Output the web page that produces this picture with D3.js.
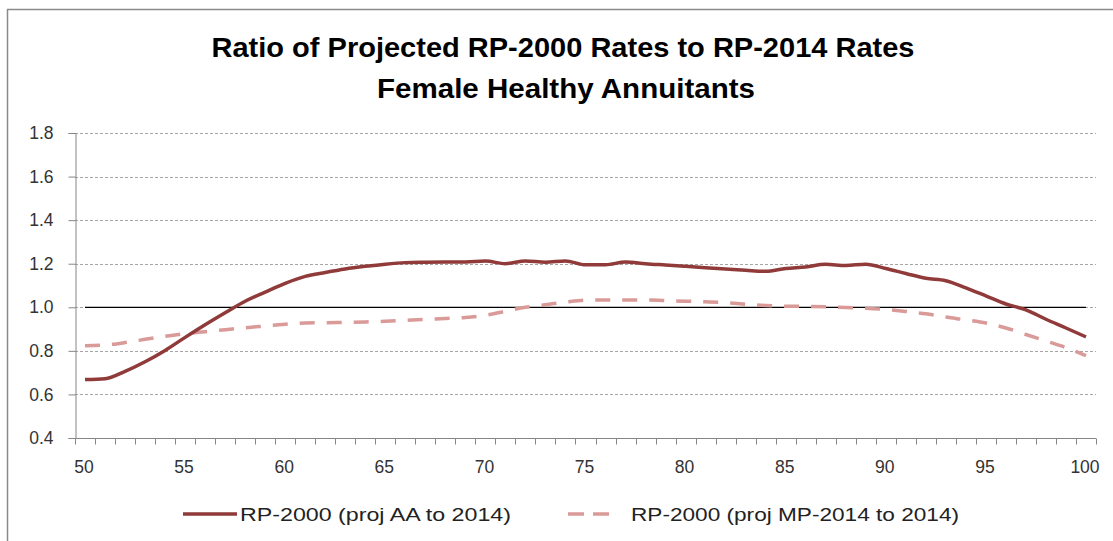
<!DOCTYPE html>
<html>
<head>
<meta charset="utf-8">
<script src="https://cdn.jsdelivr.net/npm/d3@7"></script>
<style>
  html, body { margin: 0; padding: 0; background: #fff; }
  svg { display: block; }
  text { font-family: "Liberation Sans", "DejaVu Sans", sans-serif; }
</style>
</head>
<body>
<svg id="chart" width="1113" height="541"></svg>
<script>
const ages = d3.range(50, 101);
const xTickLabels = [50, 55, 60, 65, 70, 75, 80, 85, 90, 95, 100];
const yTicks = [0.4, 0.6, 0.8, 1.0, 1.2, 1.4, 1.6, 1.8];
const seriesAA = [0.668, 0.672, 0.706, 0.750, 0.802, 0.862, 0.920, 0.975, 1.028, 1.070,
  1.110, 1.142, 1.160, 1.176, 1.188, 1.198, 1.205, 1.207, 1.208, 1.208,
  1.212, 1.200, 1.213, 1.207, 1.213, 1.195, 1.195, 1.208, 1.200, 1.194,
  1.188, 1.182, 1.176, 1.170, 1.165, 1.178, 1.185, 1.197, 1.192, 1.198,
  1.178, 1.155, 1.133, 1.122, 1.089, 1.052, 1.015, 0.988, 0.945, 0.905, 0.864];
const seriesMP = [0.824, 0.827, 0.838, 0.853, 0.867, 0.879, 0.888, 0.897, 0.906, 0.914,
  0.922, 0.928, 0.929, 0.931, 0.933, 0.936, 0.940, 0.944, 0.949, 0.953,
  0.963, 0.982, 1.000, 1.012, 1.024, 1.033, 1.034, 1.034, 1.034, 1.031,
  1.028, 1.025, 1.021, 1.014, 1.008, 1.005, 1.004, 1.002, 0.999, 0.996,
  0.990, 0.981, 0.970, 0.955, 0.942, 0.928, 0.905, 0.875, 0.845, 0.815, 0.778];
const referenceLine = ages.map(() => 1.0);
const seriesNames = ["RP-2000 (proj AA to 2014)", "RP-2000 (proj MP-2014 to 2014)"];
const titleLines = ["Ratio of Projected RP-2000 Rates to RP-2014 Rates", "Female Healthy Annuitants"];

(function () {
const svg = d3.select("#chart");
const pLeft = 75, pRight = 1096, pTop = 133, pBottom = 438;

// frame
svg.append("line").attr("x1", 7).attr("x2", 1113).attr("y1", 9.5).attr("y2", 9.5)
  .attr("stroke", "#8a8a8a").attr("stroke-width", 1.5);
svg.append("line").attr("x1", 7.5).attr("x2", 7.5).attr("y1", 9).attr("y2", 541)
  .attr("stroke", "#8a8a8a").attr("stroke-width", 1.5);

// title
svg.append("text").attr("x", 563).attr("y", 57).attr("text-anchor", "middle")
  .attr("font-size", 28.5).attr("font-weight", "bold").attr("fill", "#000")
  .attr("textLength", 703).attr("lengthAdjust", "spacingAndGlyphs").text(titleLines[0]);
svg.append("text").attr("x", 566).attr("y", 98).attr("text-anchor", "middle")
  .attr("font-size", 28.5).attr("font-weight", "bold").attr("fill", "#000")
  .attr("textLength", 378).attr("lengthAdjust", "spacingAndGlyphs").text(titleLines[1]);

const x = d3.scaleBand().domain(ages).range([pLeft, pRight]);
const xc = a => x(a) + x.bandwidth() / 2;
const y = d3.scaleLinear().domain([0.4, 1.8]).range([pBottom, pTop]);

// gridlines
svg.append("g").selectAll("line").data(yTicks.filter(v => v > 0.4)).join("line")
  .attr("x1", pLeft).attr("x2", pRight)
  .attr("y1", d => Math.round(y(d)) + 0.5).attr("y2", d => Math.round(y(d)) + 0.5)
  .attr("stroke", "#a6a6a6").attr("stroke-width", 1).attr("stroke-dasharray", "3,2");

// y axis
const yAxis = d3.axisLeft(y).tickValues(yTicks).tickFormat(d3.format(".1f")).tickSize(7).tickPadding(15);
const gy = svg.append("g").attr("transform", `translate(${pLeft + 0.5},0)`).call(yAxis);
gy.select(".domain").attr("stroke", "#868686");
gy.selectAll(".tick line").attr("stroke", "#868686");
gy.selectAll(".tick text").attr("font-size", 17.5).attr("fill", "#333").attr("font-family", "Liberation Sans, sans-serif");

// x axis
const gx = svg.append("g").attr("transform", `translate(0,${Math.round(pBottom) + 0.5})`);
gx.append("line").attr("x1", pLeft).attr("x2", pRight).attr("stroke", "#868686");
const tickPos = ages.map(a => x(a)).concat([pRight]);
gx.selectAll("line.t").data(tickPos).join("line").attr("class", "t")
  .attr("x1", d => Math.round(d) + 0.5).attr("x2", d => Math.round(d) + 0.5)
  .attr("y1", 0).attr("y2", 6).attr("stroke", "#868686");
gx.selectAll("text").data(xTickLabels).join("text")
  .attr("x", d => xc(d) - 1).attr("y", 34).attr("text-anchor", "middle")
  .attr("font-size", 17.5).attr("fill", "#333").text(d => d);

// lines
const line = d3.line().x((d, i) => xc(ages[i])).y(d => y(d)).curve(d3.curveMonotoneX);
svg.append("path").datum(referenceLine).attr("d", line)
  .attr("fill", "none").attr("stroke", "#000").attr("stroke-width", 1.3);
svg.append("path").datum(seriesMP).attr("d", line)
  .attr("fill", "none").attr("stroke", "#d99a98").attr("stroke-width", 3.5)
  .attr("stroke-dasharray", "15,12");
svg.append("path").datum(seriesAA).attr("d", line)
  .attr("fill", "none").attr("stroke", "#903a3a").attr("stroke-width", 3.5)
  .attr("stroke-linejoin", "round");

// legend
const lg = svg.append("g");
lg.append("line").attr("x1", 183).attr("x2", 237).attr("y1", 514).attr("y2", 514)
  .attr("stroke", "#903a3a").attr("stroke-width", 3.5);
lg.append("text").attr("x", 240).attr("y", 521).attr("font-size", 19).attr("fill", "#222")
  .attr("textLength", 271).attr("lengthAdjust", "spacingAndGlyphs").text(seriesNames[0]);
lg.append("line").attr("x1", 568).attr("x2", 609).attr("y1", 514).attr("y2", 514)
  .attr("stroke", "#d99a98").attr("stroke-width", 3.5).attr("stroke-dasharray", "16,9");
lg.append("text").attr("x", 631).attr("y", 521).attr("font-size", 19).attr("fill", "#222")
  .attr("textLength", 328).attr("lengthAdjust", "spacingAndGlyphs").text(seriesNames[1]);
})();
</script>
</body>
</html>
